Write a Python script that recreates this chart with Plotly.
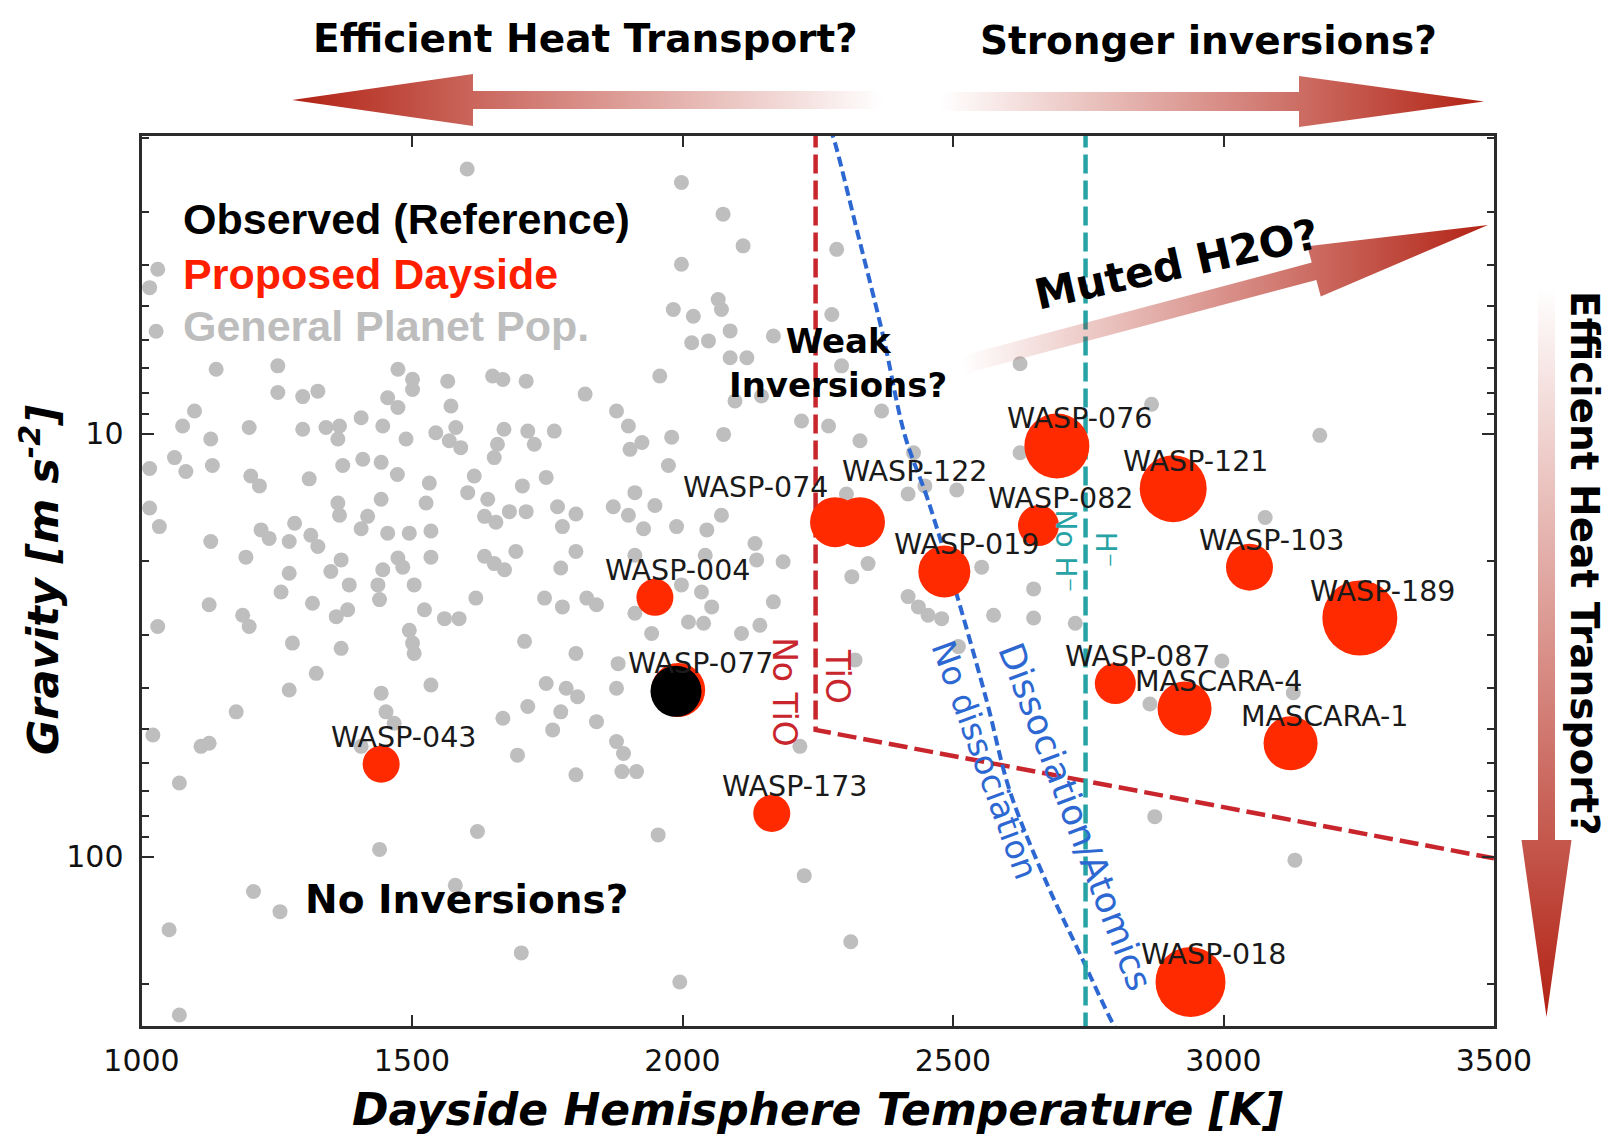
import numpy as np
import plotly.graph_objects as go

# ---------------- data ----------------
# General planet population (dayside temperature [K], gravity [m s^-2])
gen_T = [1602,1030,1015,1027,1138,1252,1474,1501,1501,1566,1649,1668,1711,1252,1298,1326,1455,1474,1572,1098,
         1076,1199,1298,1341,1366,1363,1406,1446,1489,1544,1581,1569,1590,1670,1658,1652,1714,1726,1763,1128,
         1061,1082,1015,1131,1202,1218,1310,1372,1409,1443,1473,1532,1615,1704,1748,1603,1640,1443,1363,
         1998,2075,2112,1998,2285,2066,2072,1983,2020,2088,2168,2017,2048,2276,2088,2119,1958,2294,1820,1878,
         1900,1925,1903,1980,2076,2097,2146,2220,2270,2368,2328,1974,1912,2427,2507,2417,2448,2303,
         1015,1033,1128,1193,1221,1236,1283,1273,1313,1326,1273,1258,1316,1350,1369,1384,1366,1418,1406,1455,
         1495,1535,1526,1474,1483,1446,1437,1440,1504,1535,1360,1381,1125,1187,1199,1030,1279,1369,1523,1560,
         1587,1495,1501,1504,1618,1634,1652,1671,1692,1634,1655,1680,1711,1769,1778,1803,1803,1775,1745,1778,
         1708,1803,1323,1273,1175,1443,1452,1467,1535,1406,1021,1110,1125,1070,1668,1714,1748,1785,1806,1775,
         1760,1695,1803,1621,1440,
         1872,1900,1949,1928,1989,2045,2072,1912,2042,2134,2137,2186,1998,2035,2054,1823,1841,1912,2011,2039,
         2168,2109,2143,1943,1881,1878,1841,1878,1891,1888,1915,2217,1955,2313,2343,2319,2417,2436,2454,2479,
         2553,2575,2510,
         1051,1207,1256,1580,1702,1995,2225,2311,1070,
         2624,2867,3178,2624,3077,2649,2649,2726,2997,2864,3129,2873,3132]
gen_g = [2.37,4.09,4.52,5.73,7.05,6.92,7.05,7.44,7.87,7.52,7.31,7.45,7.52,8.0,8.18,7.94,8.23,8.68,8.61,8.85,
         9.6,9.68,9.77,9.68,9.6,10.3,9.18,9.6,10.3,9.96,9.68,10.4,10.8,9.77,10.6,11.4,9.87,10.6,9.87,10.3,
         11.4,12.3,12.1,11.9,12.6,13.3,12.8,11.9,11.5,11.7,12.5,13.1,12.6,13.3,12.7,13.8,14.3,14.3,14.6,
         2.55,3.03,3.6,3.98,3.67,4.82,5.09,5.09,5.28,5.72,5.88,6.1,6.04,5.23,6.62,6.62,7.31,6.92,8.07,8.85,
         9.6,10.5,10.9,10.2,10.05,8.38,8.15,9.34,9.6,8.85,10.4,11.9,13.8,11.1,13.6,13.9,13.3,13.9,
         15.0,16.6,18.0,19.6,16.9,17.7,16.3,18.0,17.4,18.5,21.4,23.7,25.2,21.2,19.9,22.8,15.6,15.7,16.8,17.2,
         17.2,17.0,14.6,19.7,20.7,21.0,22.8,24.7,22.8,19.6,27.1,26.1,25.4,26.9,28.6,28.6,31.3,32.2,26.1,27.4,
         27.4,29.2,31.3,33.1,24.5,19.5,20.3,21.0,19.0,15.7,16.2,15.3,15.3,14.9,16.6,15.5,19.0,20.8,24.5,25.7,
         31.0,33.1,36.9,40.4,45.5,41.1,45.5,48.4,39.3,54.9,51.6,54.9,54.0,67.0,47.1,44.2,39.0,40.0,41.9,45.5,
         50.2,57.6,64.1,87.3,96.2,
         14.9,15.6,14.8,16.8,16.6,16.9,15.6,19.4,19.4,18.2,19.9,20.1,22.8,23.7,25.7,24.5,25.4,26.6,27.9,28.1,
         25.0,29.7,28.4,29.7,35.0,40.0,48.0,53.5,57.1,63.0,63.0,54.9,88.9,21.8,20.3,34.3,24.3,25.7,26.9,27.4,
         20.7,26.9,31.9,
         149,121,135,117,169,198,111,159,237,
         6.84,8.53,10.1,11.1,15.8,23.3,27.3,28.1,34.5,43.6,41.0,80.5,102]

# Proposed dayside targets
prop_names = ["WASP-076", "WASP-121", "WASP-189", "WASP-018", "WASP-103", "WASP-082", "WASP-019", "WASP-074",
              "WASP-122", "WASP-087", "MASCARA-4", "MASCARA-1", "WASP-004", "WASP-077", "WASP-043", "WASP-173"]
prop_T = [2692, 2907, 3252, 2939, 3048, 2658, 2484, 2282, 2328, 2800, 2928, 3124, 1949, 1992, 1443, 2165]
prop_g = [10.7, 13.5, 27.3, 198, 20.7, 16.5, 21.2, 16.2, 16.2, 39.0, 44.7, 54.0, 24.4, 40.4, 60.5, 79.1]

# Observed reference
obs_names = ["WASP-077"]
obs_T = [1988]
obs_g = [40.7]

# Boundary curves
tio_T = [2246, 2246, 3500]
tio_g = [1.9, 50.2, 101]
diss_T = [2272, 2279, 2325, 2371, 2411, 2454, 2510, 2562, 2605, 2675, 2730, 2796, 2805]
diss_g = [1.9, 2.0, 3.41, 5.89, 10.1, 14.4, 24.8, 42.7, 70, 117, 165, 249, 260]
hm_T = [2745, 2745]
hm_g = [1.9, 260]

x_tickvals = [1000, 1500, 2000, 2500, 3000, 3500]
y_tickvals = [10, 100]
y_minorvals = [2, 3, 4, 5, 6, 7, 8, 9, 20, 30, 40, 50, 60, 70, 80, 90, 200]

# ---------------- styles / layout ----------------
W, H = 1619, 1142
PL, PR, PT, PB = 141.5, 1494, 136, 1026
prop_diam = [65, 67, 75, 70, 47, 41, 52, 50, 50, 41, 54, 54, 37, 54, 37, 37]
obs_diam = [51]
label_shift = {"WASP-074": (-154, 35), "WASP-122": (-20, 51)}
DEF_SHIFT = (-52, 27)

RED = "#ff2a00"
GRAY = "#bebebe"
TIO_C = "#c8262c"
BLUE_C = "#2d68d2"
TEAL_C = "#27a3a6"
AX_C = "#2b2b2b"
DARK = (178, 34, 20)

fig = go.Figure()

fig.add_trace(go.Scatter(x=gen_T, y=gen_g, mode="markers",
                         marker=dict(size=15, color=GRAY, opacity=1, line=dict(width=0)), hoverinfo="skip"))
fig.add_trace(go.Scatter(x=tio_T, y=tio_g, mode="lines",
                         line=dict(color=TIO_C, width=4.5, dash="19px,7px"), hoverinfo="skip"))
fig.add_trace(go.Scatter(x=diss_T, y=diss_g, mode="lines", line_shape="spline",
                         line=dict(color=BLUE_C, width=4, dash="10px,5px"), hoverinfo="skip"))
fig.add_trace(go.Scatter(x=hm_T, y=hm_g, mode="lines",
                         line=dict(color=TEAL_C, width=4.5, dash="19px,7px"), hoverinfo="skip"))
fig.add_trace(go.Scatter(x=prop_T, y=prop_g, mode="markers", text=prop_names,
                         marker=dict(size=prop_diam, color=RED, opacity=1, line=dict(width=0))))
fig.add_trace(go.Scatter(x=obs_T, y=obs_g, mode="markers", text=obs_names,
                         marker=dict(size=obs_diam, color="black", opacity=1, line=dict(width=0))))


def arrow_poly(tail, tip, head_len, head_half, shaft_half):
    tx, ty = tail
    hx, hy = tip
    dx, dy = hx - tx, hy - ty
    L = np.hypot(dx, dy)
    ux, uy = dx / L, dy / L
    nx, ny = -uy, ux
    bx, by = hx - ux * head_len, hy - uy * head_len
    pts = [(tx + nx * shaft_half, ty + ny * shaft_half),
           (bx + nx * shaft_half, by + ny * shaft_half),
           (bx + nx * head_half, by + ny * head_half),
           (hx, hy),
           (bx - nx * head_half, by - ny * head_half),
           (bx - nx * shaft_half, by - ny * shaft_half),
           (tx - nx * shaft_half, ty - ny * shaft_half),
           (tx + nx * shaft_half, ty + ny * shaft_half)]
    return [p[0] for p in pts], [p[1] for p in pts]


def rgba(a):
    return "rgba(%d,%d,%d,%.3f)" % (DARK[0], DARK[1], DARK[2], a)


arrows = [
    # tail, tip, head length, head half width, shaft half width, gradient type, start, stop, dark at start?
    ((883, 100), (292, 100), 181, 26, 9, "horizontal", 292, 883, True),
    ((941, 101.5), (1484, 101.5), 185, 25.5, 9.5, "horizontal", 941, 1484, False),
    ((962, 365), (1488, 225), 180, 26, 9, "horizontal", 962, 1488, False),
    ((1546.5, 287), (1546.5, 1017), 177, 25, 8.5, "vertical", 287, 1017, False),
]
for tail, tip, hl, hh, sh, gtype, st, sp, dark_start in arrows:
    ax_, ay_ = arrow_poly(tail, tip, hl, hh, sh)
    cs = [[0, rgba(1.0)], [1, rgba(0.0)]] if dark_start else [[0, rgba(0.0)], [1, rgba(1.0)]]
    fig.add_trace(go.Scatter(x=ax_, y=ay_, xaxis="x2", yaxis="y2", mode="lines", fill="toself",
                             line=dict(width=0, color="rgba(0,0,0,0)"),
                             fillgradient=dict(type=gtype, colorscale=cs, start=st, stop=sp),
                             hoverinfo="skip"))


def P(x, y):
    return x / W, 1 - y / H


ann = []


def add_px(text, x, y, size, family="DejaVu Sans", color="black", weight="normal", style="normal",
           angle=0, xanchor="center"):
    px_, py_ = P(x, y)
    ann.append(dict(text=text, x=px_, y=py_, xref="paper", yref="paper", showarrow=False,
                    xanchor=xanchor, yanchor="middle", textangle=angle,
                    font=dict(family=family, size=size, color=color, weight=weight, style=style)))


def add_data(text, T, g, size, color, angle=0, weight="normal"):
    ann.append(dict(text=text, x=T, y=np.log10(g), xref="x", yref="y", showarrow=False,
                    xanchor="center", yanchor="middle", textangle=angle,
                    font=dict(family="DejaVu Sans", size=size, color=color, weight=weight)))


# Top / side texts
add_px("Efficient Heat Transport?", 585, 38.5, 39, weight="bold")
add_px("Stronger inversions?", 1208.5, 40, 39, weight="bold")
add_px("Efficient Heat Transport?", 1585, 563, 39, weight="bold", angle=90)
add_px("Muted H2O?", 1176, 265, 42, weight="bold", angle=-12.5)

# Legend-like texts
add_px("Observed (Reference)", 181, 219, 43, family="Liberation Sans, Arial", weight="bold", xanchor="left")
add_px("Proposed Dayside", 181, 273.5, 43, family="Liberation Sans, Arial", color="#ff1e00", weight="bold",
       xanchor="left")
add_px("General Planet Pop.", 181, 326, 43, family="Liberation Sans, Arial", color="#bdbdbd", weight="bold",
       xanchor="left")

add_px("Weak<br>Inversions?", 838, 363.5, 34, weight="bold")
add_px("No Inversions?", 466, 899, 39, weight="bold")

# Axis titles
add_px("Dayside Hemisphere Temperature [K]", (PL + PR) / 2, 1109, 44, weight="bold", style="italic")
add_px("Gravity [m s<sup>-2</sup>]", 40, 580, 43, weight="bold", style="italic", angle=-90)

# Boundary labels
add_data("No TiO", 2188, 10 ** 1.612, 33, TIO_C, angle=90)
add_data("TiO", 2286, 10 ** 1.573, 33, TIO_C, angle=90)
add_data("No H⁻", 2707, 10 ** 1.279, 28, TEAL_C, angle=90)
add_data("H⁻", 2781, 10 ** 1.275, 28, TEAL_C, angle=90)
add_data("No dissociation", 2559, 10 ** 1.773, 33, BLUE_C, angle=70)
add_data("Dissociation/Atomics", 2726, 10 ** 1.906, 35.5, BLUE_C, angle=69)

# Planet labels
for n, T, g in zip(prop_names, prop_T, prop_g):
    dx, dy = label_shift.get(n, DEF_SHIFT)
    ann.append(dict(text=n, x=T, y=np.log10(g), xref="x", yref="y", showarrow=False,
                    xanchor="left", yanchor="middle", xshift=dx, yshift=dy,
                    font=dict(family="DejaVu Sans", size=28.5, color="#1a1a1a")))

fig.update_layout(
    width=W, height=H, margin=dict(l=0, r=0, t=0, b=0, pad=0, autoexpand=False),
    paper_bgcolor="white", plot_bgcolor="rgba(0,0,0,0)", showlegend=False,
    annotations=ann,
    xaxis=dict(domain=[PL / W, PR / W], range=[1000, 3500], tickvals=x_tickvals,
               ticks="inside", ticklen=11, tickwidth=2, tickcolor=AX_C, automargin=False,
               showline=True, linewidth=3, linecolor=AX_C, mirror="allticks",
               showgrid=False, zeroline=False, anchor="y", ticklabelstandoff=6,
               tickfont=dict(family="DejaVu Sans", size=30, color="#111")),
    yaxis=dict(domain=[1 - PB / H, 1 - PT / H], type="log", automargin=False,
               range=[np.log10(251.6), np.log10(1.98)], tickvals=y_tickvals, ticktext=["10", "100"],
               ticks="inside", ticklen=12, tickwidth=2, tickcolor=AX_C,
               minor=dict(tickvals=y_minorvals, ticks="inside", ticklen=7, tickwidth=1.5, tickcolor=AX_C),
               showline=True, linewidth=3, linecolor=AX_C, mirror="allticks",
               showgrid=False, zeroline=False, anchor="x", ticklabelstandoff=9,
               tickfont=dict(family="DejaVu Sans", size=30, color="#111")),
    xaxis2=dict(domain=[0, 1], range=[0, W], visible=False, anchor="y2", fixedrange=True, automargin=False),
    yaxis2=dict(domain=[0, 1], range=[H, 0], visible=False, anchor="x2", fixedrange=True, automargin=False),
)

fig.write_html("out.html", config={"displayModeBar": False},
               post_script="document.body.style.margin='0';document.body.style.overflow='hidden';")
